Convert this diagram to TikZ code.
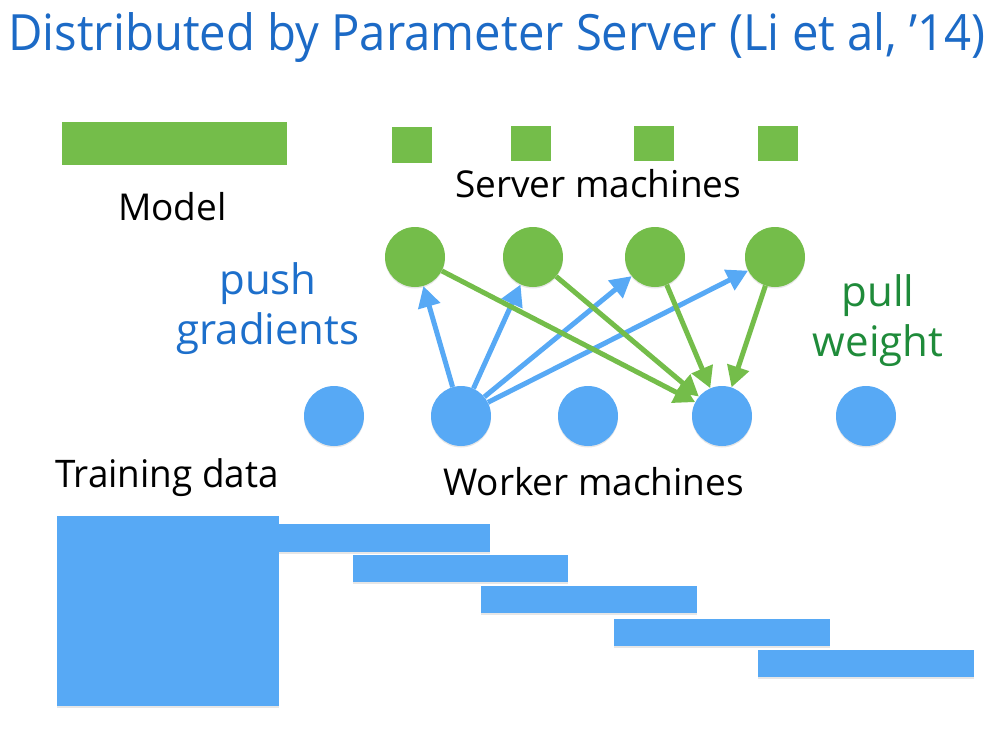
\documentclass[tikz,border=0pt]{standalone}
\usepackage{fontspec}
\setmainfont{Open Sans}
\newfontfamily\titlefont[FakeStretch=0.945]{Open Sans}
\newfontfamily\narrowfont[FakeStretch=0.97]{Open Sans}
\definecolor{psgreen}{HTML}{74BD4A}
\definecolor{psblue}{HTML}{57A9F5}
\definecolor{pstitle}{HTML}{1C6AC6}
\definecolor{pspush}{HTML}{1D6FCB}
\definecolor{pspull}{HTML}{1F8B3A}
\usepackage{tikz}
\usetikzlibrary{arrows.meta,positioning,shadows}

\begin{document}
\begin{tikzpicture}[
    x=1pt, y=-1pt,
    shd/.style={drop shadow={opacity=0.2, shadow xshift=0pt, shadow yshift=-1.5pt}},
    srv/.style={circle, fill=psgreen, minimum size=60pt, inner sep=0pt, shd},
    wrk/.style={circle, fill=psblue, minimum size=60pt, inner sep=0pt, shd},
    bar/.style={fill=psblue, shd},
    lbl/.style={inner sep=0pt, anchor=base west, font=\fontsize{37}{44}\selectfont},
    big/.style={inner sep=0pt, align=center, font=\fontsize{42}{50}\selectfont},
    push/.style={-{Triangle[length=21pt, width=22pt]}, line width=5pt, psblue},
    pull/.style={-{Triangle[length=21pt, width=22pt]}, line width=5pt, psgreen},
  ]
  \useasboundingbox (0,0) rectangle (1002,729);

  \node[inner sep=0pt, anchor=base west, text=pstitle,
        font=\titlefont\fontsize{50}{58}\selectfont] (title) at (8,50)
        {Distributed by Parameter Server (Li et al, ’14)};

  % model and its shards
  \fill[psgreen] (62,122) rectangle (287,165);
  \fill[psgreen] (392,127) rectangle (432,163);
  \fill[psgreen] (511,126) rectangle (551,161);
  \fill[psgreen] (634,126) rectangle (674,161);
  \fill[psgreen] (758,126) rectangle (798,161);
  \node[lbl] (model) at (118,220) {Model};
  \node[lbl] (srvlbl) at (455,197) {Server machines};

  \node[srv] (s1) at (415,257) {};
  \node[srv] (s2) at (533,257) {};
  \node[srv] (s3) at (655,257) {};
  \node[srv] (s4) at (775,257) {};

  \node[wrk] (w1) at (334,416) {};
  \node[wrk] (w2) at (461,416) {};
  \node[wrk] (w3) at (588,416) {};
  \node[wrk] (w4) at (722,416) {};
  \node[wrk] (w5) at (866,416) {};

  \node[big, text=pspush] (pushlbl) at (268,309) {push\\gradients};
  \node[big, text=pspull] (pulllbl) at (878,321) {pull\\weight};

  \foreach \s in {s1,s2,s3,s4}
    \draw[push] (w2) -- (\s);
  \foreach \s in {s1,s2,s3,s4}
    \draw[pull] (\s) -- (w4);

  \node[lbl, font=\narrowfont\fontsize{38}{46}\selectfont] (datalbl) at (55,487) {Training data};
  \node[lbl, font=\fontsize{37}{46}\selectfont] (wrklbl) at (443,495) {Worker machines};

  % training data and its partitions
  \fill[bar] (57,516) rectangle (279,706);
  \fill[bar] (279,524) rectangle (490,552);
  \fill[bar] (353,555) rectangle (568,582);
  \fill[bar] (481,586) rectangle (697,613);
  \fill[bar] (614,619) rectangle (830,646);
  \fill[bar] (758,650) rectangle (974,677);
\end{tikzpicture}
\end{document}
